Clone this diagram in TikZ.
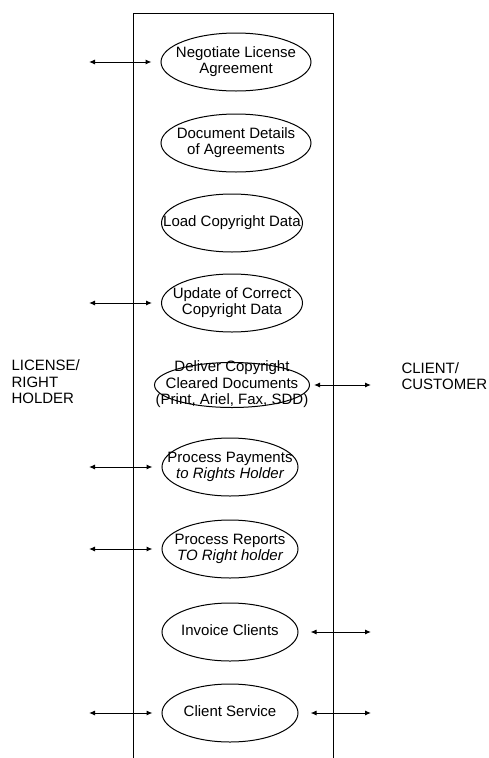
\documentclass[tikz,border=0pt]{standalone}
\usepackage{fontspec}
\setmainfont{Liberation Sans}
\usepackage{tikz}
\usepackage{xcolor}
\usetikzlibrary{arrows.meta, positioning, shapes.geometric}

% text of a use case, kept out of the ellipse size
\newcommand{\uctext}[1]{\makebox[0pt]{\raisebox{-0.25em}[0pt][0pt]{\begin{tabular}{@{}c@{}}#1\end{tabular}}}}

\begin{document}
\begin{tikzpicture}[x=1pt, y=-1pt,
    every node/.style={font=\fontsize{15}{16.5}\selectfont},
    usecase/.style={ellipse, draw, line width=1pt, inner sep=0pt, minimum height=58pt},
    link/.style={{Latex[length=6pt,width=5pt]}-{Latex[length=6pt,width=5pt]}, line width=1pt}]
    \useasboundingbox (0,0) rectangle (489,758);

    % System boundary
    \draw[line width=1pt] (133,758) -- (133,13) -- (333,13) -- (333,758);

    % Use cases
    \node[usecase, minimum width=150pt] (negotiate) at (236,62) {\uctext{Negotiate License\\Agreement}};
    \node[usecase, minimum width=150pt] (details) at (236,143) {\uctext{Document Details\\of Agreements}};
    \node[usecase, minimum width=141pt] (load) at (232,223) {\uctext{Load Copyright Data}};
    \node[usecase, minimum width=141pt] (update) at (232,303) {\uctext{Update of Correct\\Copyright Data}};
    \node[usecase, minimum width=155pt, minimum height=45pt] (deliver) at (232,385)
        {\uctext{Deliver Copyright\\Cleared Documents\\(Print, Ariel, Fax, SDD)}};
    \node[usecase, minimum width=136pt] (payments) at (230,467) {\uctext{Process Payments\\\itshape to Rights Holder}};
    \node[usecase, minimum width=136pt] (reports) at (230,549) {\uctext{Process Reports\\\itshape TO Right holder}};
    \node[usecase, minimum width=136pt] (invoice) at (230,632) {\uctext{Invoice Clients}};
    \node[usecase, minimum width=136pt] (service) at (230,713) {\uctext{Client Service}};

    % Actors
    \node[anchor=west, align=left] (holder) at (8,382) {LICENSE/\\RIGHT\\HOLDER};
    \node[anchor=west, align=left] (client) at (398,376) {CLIENT/\\CUSTOMER};

    % Left side links
    \foreach \uc in {negotiate, update, payments, reports, service} {
        \coordinate (\uc-L) at (89,0 |- \uc);
        \draw[link, shorten >=9pt] (\uc-L) -- (\uc);
    }

    % Right side links
    \foreach \uc/\gap in {deliver/4, invoice/12, service/12} {
        \coordinate (\uc-R) at (371,0 |- \uc);
        \draw[link, shorten <=\gap pt] (\uc) -- (\uc-R);
    }
\end{tikzpicture}
\end{document}
